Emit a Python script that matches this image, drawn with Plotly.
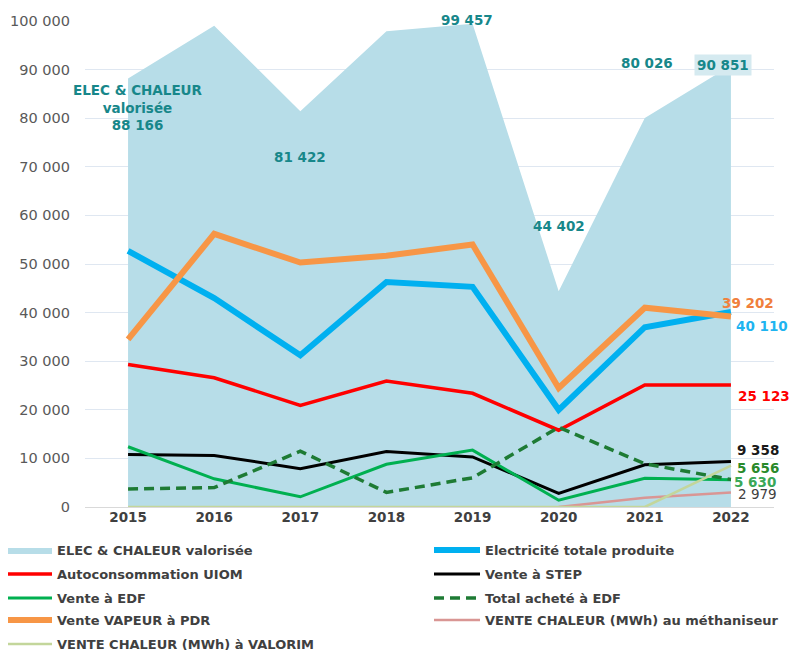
import plotly.graph_objects as go

years = ["2015", "2016", "2017", "2018", "2019", "2020", "2021", "2022"]

elec_chaleur = [88166, 99000, 81422, 97900, 99457, 44402, 80026, 90851]
elec_totale = [52700, 43000, 31200, 46300, 45300, 20000, 37000, 40110]
autoconso = [29300, 26600, 20900, 25900, 23400, 15800, 25100, 25123]
vente_step = [10800, 10600, 7900, 11400, 10300, 2800, 8700, 9358]
vente_edf = [12400, 5800, 2100, 8800, 11700, 1400, 5900, 5630]
achat_edf = [3700, 4000, 11500, 3000, 6000, 16400, 8900, 5656]
vapeur_pdr = [34500, 56200, 50300, 51700, 54000, 24500, 41000, 39202]
chaleur_metha = [None, None, None, None, None, 0, 1900, 2979]
chaleur_valorim = [0, 0, 0, 0, 0, 0, 0, 8500]

FONT = "DejaVu Sans"
TEAL = "#17878a"
# the page body adds an 8px margin, so the figure is 8px smaller each way
W, H = 791, 642


def fmt(v):
    return f"{v:,}".replace(",", " ")


# (name, values, line style, fill, legend id, legend column, legend row)
series = [
    ("ELEC & CHALEUR valorisée", elec_chaleur, dict(width=0, color="#b7dde8"), True, "legend", 0, 0),
    ("Electricité totale produite", elec_totale, dict(color="#00b0f0", width=6), False, "legend2", 1, 0),
    ("Autoconsommation UIOM", autoconso, dict(color="#ff0000", width=3.5), False, "legend3", 0, 1),
    ("Vente à STEP", vente_step, dict(color="#000000", width=3), False, "legend4", 1, 1),
    ("Vente à EDF", vente_edf, dict(color="#00b050", width=3), False, "legend5", 0, 2),
    ("Total acheté à EDF", achat_edf, dict(color="#1e7b34", width=3.5, dash="10px,6px"), False, "legend6", 1, 2),
    ("Vente VAPEUR à PDR", vapeur_pdr, dict(color="#f79646", width=6), False, "legend7", 0, 3),
    ("VENTE CHALEUR (MWh) au méthaniseur", chaleur_metha, dict(color="#d99694", width=2.5), False, "legend8", 1, 3),
    ("VENTE CHALEUR (MWh) à VALORIM", chaleur_valorim, dict(color="#c3d69b", width=2.5), False, "legend9", 0, 4),
]

col_x = [0, 421]
col_indent = [-7, 0]
row_top = [527, 551, 575, 597, 621]

fig = go.Figure()
legends = {}
for name, vals, line, fill, leg, col, row in series:
    kw = dict(fill="tozeroy", fillcolor="#b7dde8") if fill else {}
    fig.add_trace(go.Scatter(x=years, y=vals, name=name, mode="lines",
                             line=line, legend=leg, **kw))
    legends[leg] = dict(xref="container", yref="container", orientation="h",
                        x=col_x[col] / W, y=1 - row_top[row] / H,
                        xanchor="left", yanchor="top", indentation=col_indent[col],
                        itemwidth=46, bgcolor="rgba(0,0,0,0)",
                        font=dict(family=FONT, size=13, color="#404040", weight="bold"))

bold = dict(family=FONT, size=13.5, weight="bold")

# Labels for the area series
area_labels = [
    (0, "ELEC & CHALEUR<br>valorisée<br>" + fmt(elec_chaleur[0]), 10, -29, None),
    (2, fmt(elec_chaleur[2]), 0, -46, None),
    (4, fmt(elec_chaleur[4]), -6, 4, None),
    (5, fmt(elec_chaleur[5]), 0, 65, None),
    (6, fmt(elec_chaleur[6]), 2, 55, None),
    (7, fmt(elec_chaleur[7]), -8, 0, "#d5eaf0"),
]
for i, txt, xs, ys, bg in area_labels:
    fig.add_annotation(x=i, y=elec_chaleur[i], text=txt, showarrow=False,
                       xshift=xs, yshift=ys, font=dict(bold, color=TEAL),
                       bgcolor=bg, borderpad=2)

# End-of-series labels
end_labels = [
    (vapeur_pdr[7], "#f0803c", 17, 13, True),
    (elec_totale[7], "#1fb4f0", 31, -14, True),
    (autoconso[7], "#ff0000", 33, -11, True),
    (vente_step[7], "#1a1a1a", 27, 12, True),
    (achat_edf[7], "#2a8a2a", 27, 12, True),
    (vente_edf[7], "#3aa858", 24, -2, True),
    (chaleur_metha[7], "#404040", 27, -1.5, False),
]
for v, col, xs, ys, b in end_labels:
    fig.add_annotation(x=7, y=v, text=fmt(v), showarrow=False,
                       xshift=xs, yshift=ys,
                       font=dict(family=FONT, size=13.5, color=col,
                                 weight="bold" if b else "normal"))

fig.update_layout(
    width=W, height=H,
    margin=dict(l=77, r=25, t=13, b=143, autoexpand=False),
    paper_bgcolor="white", plot_bgcolor="white",
    separators=", ",
    showlegend=True,
    font=dict(family=FONT, color="#404040"),
    xaxis=dict(type="category", range=[-0.5, 7.5], showgrid=False,
               showline=False, ticks="", zeroline=False,
               tickfont=dict(family=FONT, size=13.5, color="#404040", weight="bold")),
    yaxis=dict(range=[0, 100000], dtick=10000, tickformat=",d",
               gridcolor="#dfe7f1", gridwidth=1, zeroline=True,
               zerolinecolor="#d9d9d9", zerolinewidth=1,
               showline=False, ticks="", ticklabelstandoff=14,
               tickfont=dict(family=FONT, size=14.5, color="#595959")),
    **legends,
)

fig.write_html("out.html")
